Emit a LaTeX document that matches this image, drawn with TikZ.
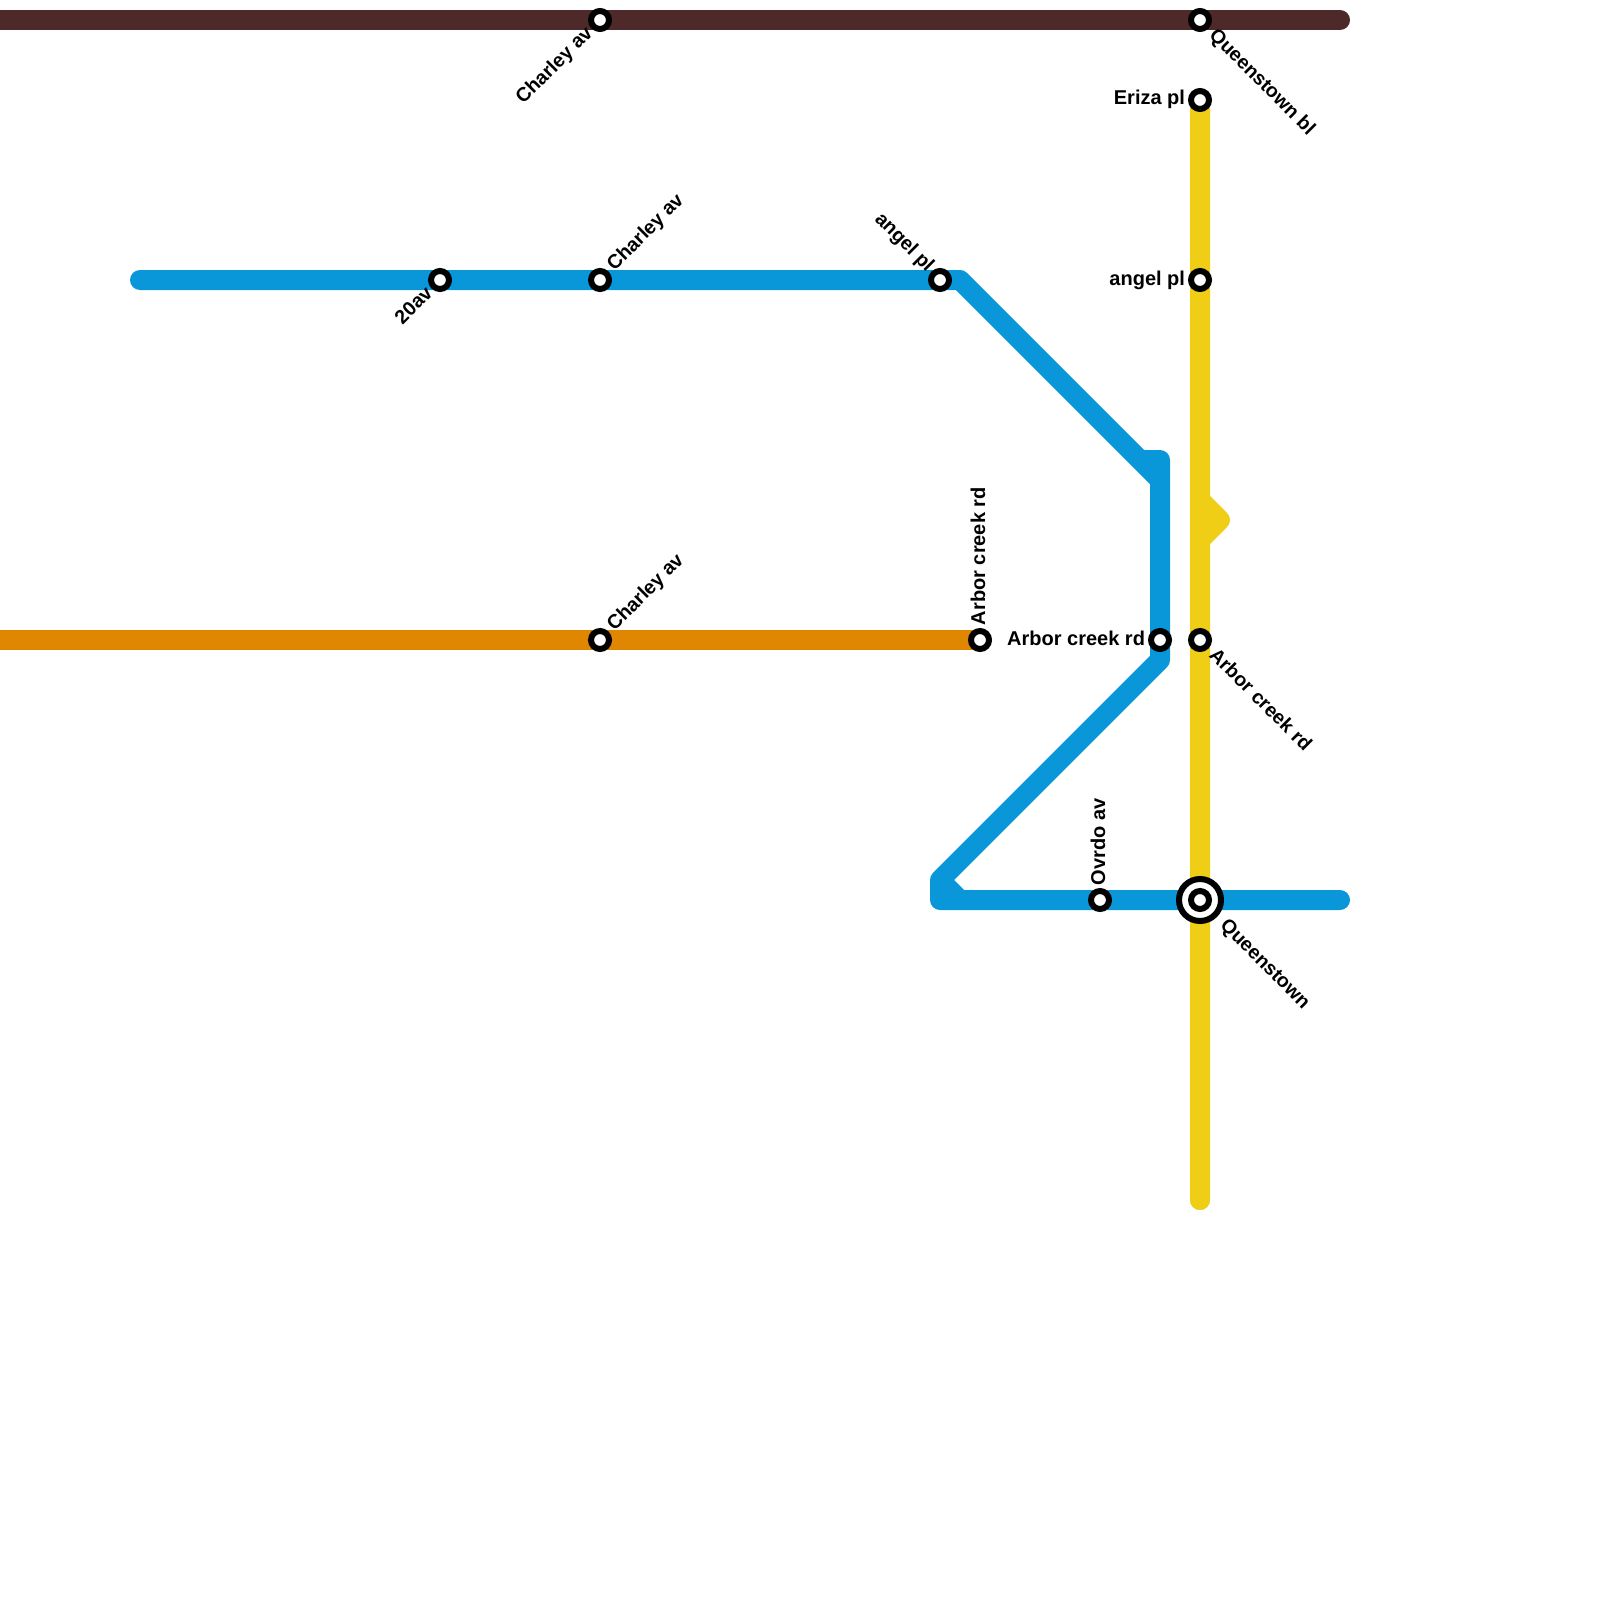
\documentclass[tikz,border=0pt]{standalone}
\usepackage{fontspec}
\usetikzlibrary{calc}
\setmainfont{Liberation Sans}
\tikzset{
  route/.style={line width=20pt,line cap=round,line join=round},
  station/.style={circle,draw=black,fill=white,line width=6pt,minimum size=18pt,inner sep=0pt,outer sep=0pt},
  hub/.style={circle,draw=black,fill=white,line width=6pt,minimum size=42pt,inner sep=0pt,outer sep=0pt},
  lbl/.style={inner sep=0pt,outer sep=0pt,text height=14.5pt,text depth=4.5pt,font=\fontsize{20}{24}\selectfont\bfseries,text=black},
  dlbl/.style={lbl,font=\fontsize{19.6}{24}\selectfont\bfseries}
}
\definecolor{cblue}{HTML}{0A97D9}
\definecolor{cyellow}{HTML}{F0CE15}
\definecolor{cbrown}{HTML}{4D2929}
\definecolor{corange}{HTML}{E08600}
\begin{document}
\begin{tikzpicture}[x=1pt,y=-1pt]
\useasboundingbox (0,0) rectangle (1600,1600);
\clip (0,0) rectangle (1600,1600);
% free ends and bends
\coordinate (bs) at (140,280);
\coordinate (b1) at (960,280);
\coordinate (b2) at (1160,480);
\coordinate (b2a) at (1140,460);
\coordinate (b3) at (1160,460);
\coordinate (b4) at (1160,660);
\coordinate (b5) at (940,880);
\coordinate (b5a) at (960,900);
\coordinate (b6) at (940,900);
\coordinate (be) at (1340,900);
\coordinate (ns) at (-20,20);
\coordinate (ne) at (1340,20);
\coordinate (os) at (-20,640);
\coordinate (y1) at (1200,500);
\coordinate (y2) at (1220,520);
\coordinate (y3) at (1200,540);
\coordinate (ye) at (1200,1200);
% stations positions
\coordinate (pCharleyTop) at (600,20);
\coordinate (pQbl) at (1200,20);
\coordinate (pEriza) at (1200,100);
\coordinate (pAngelY) at (1200,280);
\coordinate (pArborY) at (1200,640);
\coordinate (pQ) at (1200,900);
\coordinate (pOv) at (1100,900);
\coordinate (pArborB) at (1160,640);
\coordinate (pArborO) at (980,640);
\coordinate (pCharleyO) at (600,640);
\coordinate (p20) at (440,280);
\coordinate (pCharleyB) at (600,280);
\coordinate (pAngelB) at (940,280);
% routes
\draw[route,cbrown] (ns) -- (ne);
\draw[route,corange] (os) -- (pArborO);
\draw[route,cblue] (bs) -- (b1) -- (b2) -- (b3) -- (b2a) -- (b2) -- (b4) -- (b5) -- (b5a) -- (b6) -- (b5) -- (b6) -- (be);
\draw[route,cyellow] (pEriza) -- (y1) -- (y2) -- (y3) -- (ye);
\draw[route,cyellow] (pEriza) -- (ye);
% stations
\node[station] (sCharleyTop) at (pCharleyTop) {};
\node[station] (sQbl) at (pQbl) {};
\node[station] (sEriza) at (pEriza) {};
\node[station] (sAngelY) at (pAngelY) {};
\node[station] (sArborY) at (pArborY) {};
\node[station] (sOv) at (pOv) {};
\node[station] (sArborB) at (pArborB) {};
\node[station] (sArborO) at (pArborO) {};
\node[station] (sCharleyO) at (pCharleyO) {};
\node[station] (s20) at (p20) {};
\node[station] (sCharleyB) at (pCharleyB) {};
\node[station] (sAngelB) at (pAngelB) {};
\node[hub] (sQh) at (pQ) {};
\node[station] (sQ) at (pQ) {};
% labels
\node[dlbl,rotate=45,anchor=east] (lCT) at ($(pCharleyTop)+(-10,11)$) {Charley av};
\node[dlbl,rotate=-45,anchor=west] (lQbl) at ($(pQbl)+(12,13)$) {Queenstown bl};
\node[lbl,anchor=east] (lEr) at ($(pEriza)+(-15,0)$) {Eriza pl};
\node[lbl,anchor=east] (lAY) at ($(pAngelY)+(-15,0)$) {angel pl};
\node[dlbl,rotate=-45,anchor=west] (lAY2) at ($(pArborY)+(12,13)$) {Arbor creek rd};
\node[dlbl,rotate=-45,anchor=west] (lQ) at ($(pQ)+(23,23)$) {Queenstown};
\node[lbl,rotate=90,anchor=west] (lOv) at ($(pOv)+(0,-15)$) {Ovrdo av};
\node[lbl,anchor=east] (lAB) at ($(pArborB)+(-15,0)$) {Arbor creek rd};
\node[lbl,rotate=90,anchor=west] (lAO) at ($(pArborO)+(0,-15)$) {Arbor creek rd};
\node[dlbl,rotate=45,anchor=west] (lCO) at ($(pCharleyO)+(11,-12)$) {Charley av};
\node[dlbl,rotate=45,anchor=east] (l20) at ($(p20)+(-10,11)$) {20av};
\node[dlbl,rotate=45,anchor=west] (lCB) at ($(pCharleyB)+(11,-12)$) {Charley av};
\node[dlbl,rotate=-45,anchor=east] (lAB2) at ($(pAngelB)+(-10,-11)$) {angel pl};
\end{tikzpicture}
\end{document}
